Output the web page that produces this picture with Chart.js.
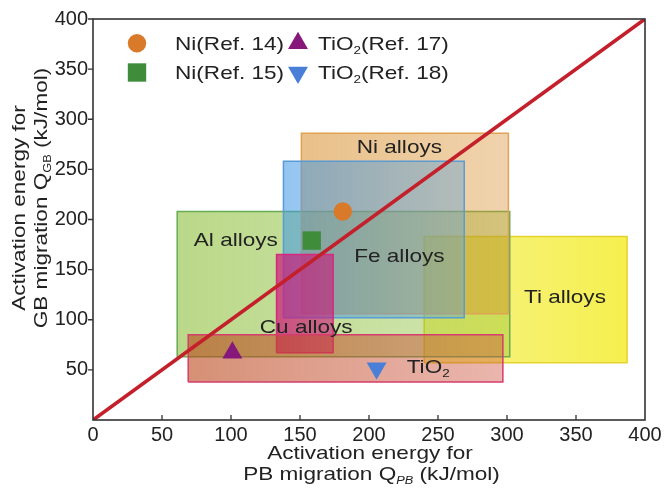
<!DOCTYPE html>
<html lang="en">
<head>
<meta charset="utf-8">
<title>Activation energy for GB vs PB migration</title>
<script src="https://cdn.jsdelivr.net/npm/chart.js@4.4.1/dist/chart.umd.min.js"></script>
<style>
  html, body { margin: 0; padding: 0; background: #fff; }
</style>
</head>
<body>
<canvas id="qchart" width="665" height="489"></canvas>
<script>
// ranges of activation energy per material class (kJ/mol)
const boxNames = ['Ti alloys', 'Al alloys', 'Ni alloys', 'Fe alloys', 'Cu alloys', 'TiO2'];
const boxPbMin = [240, 61, 151, 138, 133, 69];
const boxPbMax = [387, 302, 301, 269, 174, 297];
const boxGbMin = [57, 63, 106, 102, 67, 38];
const boxGbMax = [183, 208, 286, 258, 165, 85];

// single values from the references
const refNames = ['Ni(Ref. 14)', 'Ni(Ref. 15)', 'TiO2(Ref. 17)', 'TiO2(Ref. 18)'];
const refPb = [181, 158.5, 101, 205.5];
const refGb = [208, 179, 67, 51.5];

// Q_GB = Q_PB
const diagPb = [0, 400];
const diagGb = [0, 400];

const tickValues = [0, 50, 100, 150, 200, 250, 300, 350, 400];

const FONT = '"Liberation Sans", Arial, sans-serif';
const SX = 1.22;      // the figure text is drawn a bit wide
const TXT = '#222';

const boxStyle = [
    { c0: 'rgba(240,232,20,0.5)', c1: 'rgba(242,234,20,0.75)', border: 'rgba(228,208,40,0.95)' },
    { c0: 'rgba(130,185,40,0.55)', c1: 'rgba(130,185,40,0.36)', border: '#6aac55' },
    { c0: 'rgba(215,140,40,0.55)', c1: 'rgba(215,140,40,0.38)', border: '#e0a255' },
    { c0: 'rgba(60,150,230,0.55)', c1: 'rgba(90,160,215,0.4)', border: '#5b9bd5' },
    { c0: 'rgba(205,20,120,0.7)', c1: 'rgba(205,20,120,0.58)', border: '#d6287f' },
    { c0: 'rgba(185,70,25,0.6)', c1: 'rgba(205,80,60,0.42)', border: '#d63c6e' },
];
const boxOrder = [10, 9, 8, 7, 6, 5];

const refStyle = [
    { pointStyle: 'circle', radius: 9.2, rotation: 0, color: '#d9792a' },
    { pointStyle: 'rect', radius: 13, rotation: 0, color: '#3f8c3b' },
    { pointStyle: 'triangle', radius: 11.5, rotation: 0, color: '#86187c' },
    { pointStyle: 'triangle', radius: 11.5, rotation: 180, color: '#4a7fd8' },
];

// where the class names sit (data coords, centre of caps)
const labelAt = [
    { text: 'Ti alloys', x: 342, y: 123 },
    { text: 'Al alloys', x: 103.5, y: 180 },
    { text: 'Ni alloys', x: 222, y: 273 },
    { text: 'Fe alloys', x: 222, y: 164 },
    { text: 'Cu alloys', x: 154.5, y: 93.5 },
];

const rectPoints = (i) => [
    { x: boxPbMin[i], y: boxGbMin[i] },
    { x: boxPbMax[i], y: boxGbMin[i] },
    { x: boxPbMax[i], y: boxGbMax[i] },
    { x: boxPbMin[i], y: boxGbMax[i] },
    { x: boxPbMin[i], y: boxGbMin[i] },
];

const boxFill = (chart, i) => {
    const st = boxStyle[i];
    const xs = chart.scales && chart.scales.x;
    if (!xs || !chart.chartArea) return st.c0;
    const a = xs.getPixelForValue(boxPbMin[i]);
    const b = xs.getPixelForValue(boxPbMax[i]);
    if (!Number.isFinite(a) || !Number.isFinite(b)) return st.c0;
    const g = chart.ctx.createLinearGradient(a, 0, b, 0);
    g.addColorStop(0, st.c0);
    g.addColorStop(1, st.c1);
    return g;
};

// text made of runs: [text, size, style, dy]
const drawRuns = (ctx, runs, x, y, align) => {
    let w = 0;
    runs.forEach(r => {
        ctx.font = `${r[2] || ''} ${r[1]}px ${FONT}`;
        w += ctx.measureText(r[0]).width;
    });
    let cx = align === 'center' ? -w / 2 : 0;
    ctx.save();
    ctx.translate(x, y);
    ctx.scale(SX, 1);
    ctx.textAlign = 'left';
    ctx.textBaseline = 'alphabetic';
    ctx.fillStyle = TXT;
    runs.forEach(r => {
        ctx.font = `${r[2] || ''} ${r[1]}px ${FONT}`;
        ctx.fillText(r[0], cx, r[3] || 0);
        cx += ctx.measureText(r[0]).width;
    });
    ctx.restore();
};

const marker = (ctx, st, x, y) => {
    ctx.save();
    ctx.fillStyle = st.color;
    Chart.helpers.drawPoint(ctx, { pointStyle: st.pointStyle, radius: st.radius, rotation: st.rotation, borderWidth: 0 }, x, y);
    ctx.restore();
};

const refRuns = (name) => {
    if (name.startsWith('TiO2')) {
        return [['TiO', 18.5], ['2', 11, '', 4], [name.slice(4), 18.5]];
    }
    return [[name, 18.5]];
};

const decorPlugin = {
    id: 'decor',
    afterDraw(chart) {
        const ctx = chart.ctx;
        const area = chart.chartArea;
        const xs = chart.scales.x;
        const ys = chart.scales.y;

        // frame
        ctx.save();
        ctx.strokeStyle = '#333';
        ctx.lineWidth = 1.6;
        ctx.strokeRect(area.left, area.top, area.right - area.left, area.bottom - area.top);

        // tick marks: x inside, y outside
        ctx.lineWidth = 1.3;
        ctx.beginPath();
        xs.ticks.forEach(t => {
            if (t.value <= 0 || t.value >= 400) return;
            const px = xs.getPixelForValue(t.value);
            ctx.moveTo(px, area.bottom);
            ctx.lineTo(px, area.bottom - 5);
        });
        ys.ticks.forEach(t => {
            if (t.value <= 0) return;
            const py = ys.getPixelForValue(t.value);
            ctx.moveTo(area.left, py);
            ctx.lineTo(area.left - 5, py);
        });
        ctx.stroke();
        ctx.restore();

        // class names
        labelAt.forEach(l => {
            drawRuns(ctx, [[l.text, 18.5]], xs.getPixelForValue(l.x), ys.getPixelForValue(l.y) + 6.6, 'center');
        });
        drawRuns(ctx, [['TiO', 18.5], ['2', 11, '', 4]], xs.getPixelForValue(227.3), ys.getPixelForValue(53) + 6.6, 'left');

        // legend, two columns
        const colMark = [area.left + 44, area.left + 205];
        const colText = [area.left + 82, area.left + 225];
        const rowY = [area.top + 24.3, area.top + 53.5];
        refNames.forEach((name, i) => {
            const col = i < 2 ? 0 : 1;
            const row = i % 2;
            marker(ctx, refStyle[i], colMark[col], rowY[row]);
            drawRuns(ctx, refRuns(name), colText[col], rowY[row] + 6.6, 'left');
        });

        // axis titles
        const cx = (area.left + area.right) / 2;
        drawRuns(ctx, [['Activation energy for', 18.5]], cx + 1, 459, 'center');
        drawRuns(ctx, [['PB migration Q', 18.5], ['PB', 10.5, 'italic', 4], [' (kJ/mol)', 18.5]], cx + 2.5, 480, 'center');

        ctx.save();
        ctx.translate(25, 208);
        ctx.rotate(-Math.PI / 2);
        drawRuns(ctx, [['Activation energy for', 18.5]], 0, 0, 'center');
        ctx.restore();
        ctx.save();
        ctx.translate(47, 198);
        ctx.rotate(-Math.PI / 2);
        drawRuns(ctx, [['GB migration Q', 18.5], ['GB', 10.5, '', 4], [' (kJ/mol)', 18.5]], 0, 0, 'center');
        ctx.restore();
    }
};

const datasets = [];
boxNames.forEach((name, i) => {
    datasets.push({
        label: name,
        data: rectPoints(i),
        showLine: true,
        fill: 'shape',
        tension: 0,
        borderColor: boxStyle[i].border,
        borderWidth: 1.5,
        backgroundColor: (c) => boxFill(c.chart, i),
        pointRadius: 0,
        pointHoverRadius: 0,
        order: boxOrder[i],
    });
});
datasets.push({
    label: 'Q_GB = Q_PB',
    data: diagPb.map((v, i) => ({ x: v, y: diagGb[i] })),
    showLine: true,
    fill: false,
    borderColor: '#c3202b',
    borderWidth: 3.6,
    pointRadius: 0,
    pointHoverRadius: 0,
    order: 2,
});
refNames.forEach((name, i) => {
    datasets.push({
        label: name,
        data: [{ x: refPb[i], y: refGb[i] }],
        pointStyle: refStyle[i].pointStyle,
        pointRadius: refStyle[i].radius,
        pointRotation: refStyle[i].rotation,
        pointBackgroundColor: refStyle[i].color,
        pointBorderWidth: 0,
        pointHoverRadius: refStyle[i].radius,
        order: 1,
    });
});

new Chart(document.getElementById('qchart'), {
    type: 'scatter',
    data: { datasets: datasets },
    options: {
        responsive: false,
        animation: false,
        devicePixelRatio: 1,
        layout: { padding: { top: 19, right: 20, left: 0, bottom: 0 } },
        plugins: {
            legend: { display: false },
            tooltip: { enabled: false },
        },
        scales: {
            x: {
                type: 'linear',
                min: 0,
                max: 400,
                afterFit: (s) => { s.height = 69; },
                afterBuildTicks: (s) => { s.ticks = tickValues.map(v => ({ value: v })); },
                ticks: {
                    font: { family: FONT, size: 20 },
                    color: TXT,
                    padding: 3,
                    maxRotation: 0,
                    autoSkip: false,
                },
                grid: { display: false, drawTicks: false },
                border: { display: false },
            },
            y: {
                type: 'linear',
                min: 0,
                max: 400,
                afterFit: (s) => { s.width = 93; },
                afterBuildTicks: (s) => { s.ticks = tickValues.map(v => ({ value: v })); },
                ticks: {
                    font: { family: FONT, size: 20 },
                    color: TXT,
                    padding: 5,
                    autoSkip: false,
                    callback: (v) => (v === 0 ? '' : v),
                },
                grid: { display: false, drawTicks: false },
                border: { display: false },
            },
        },
    },
    plugins: [decorPlugin],
});
</script>
</body>
</html>
